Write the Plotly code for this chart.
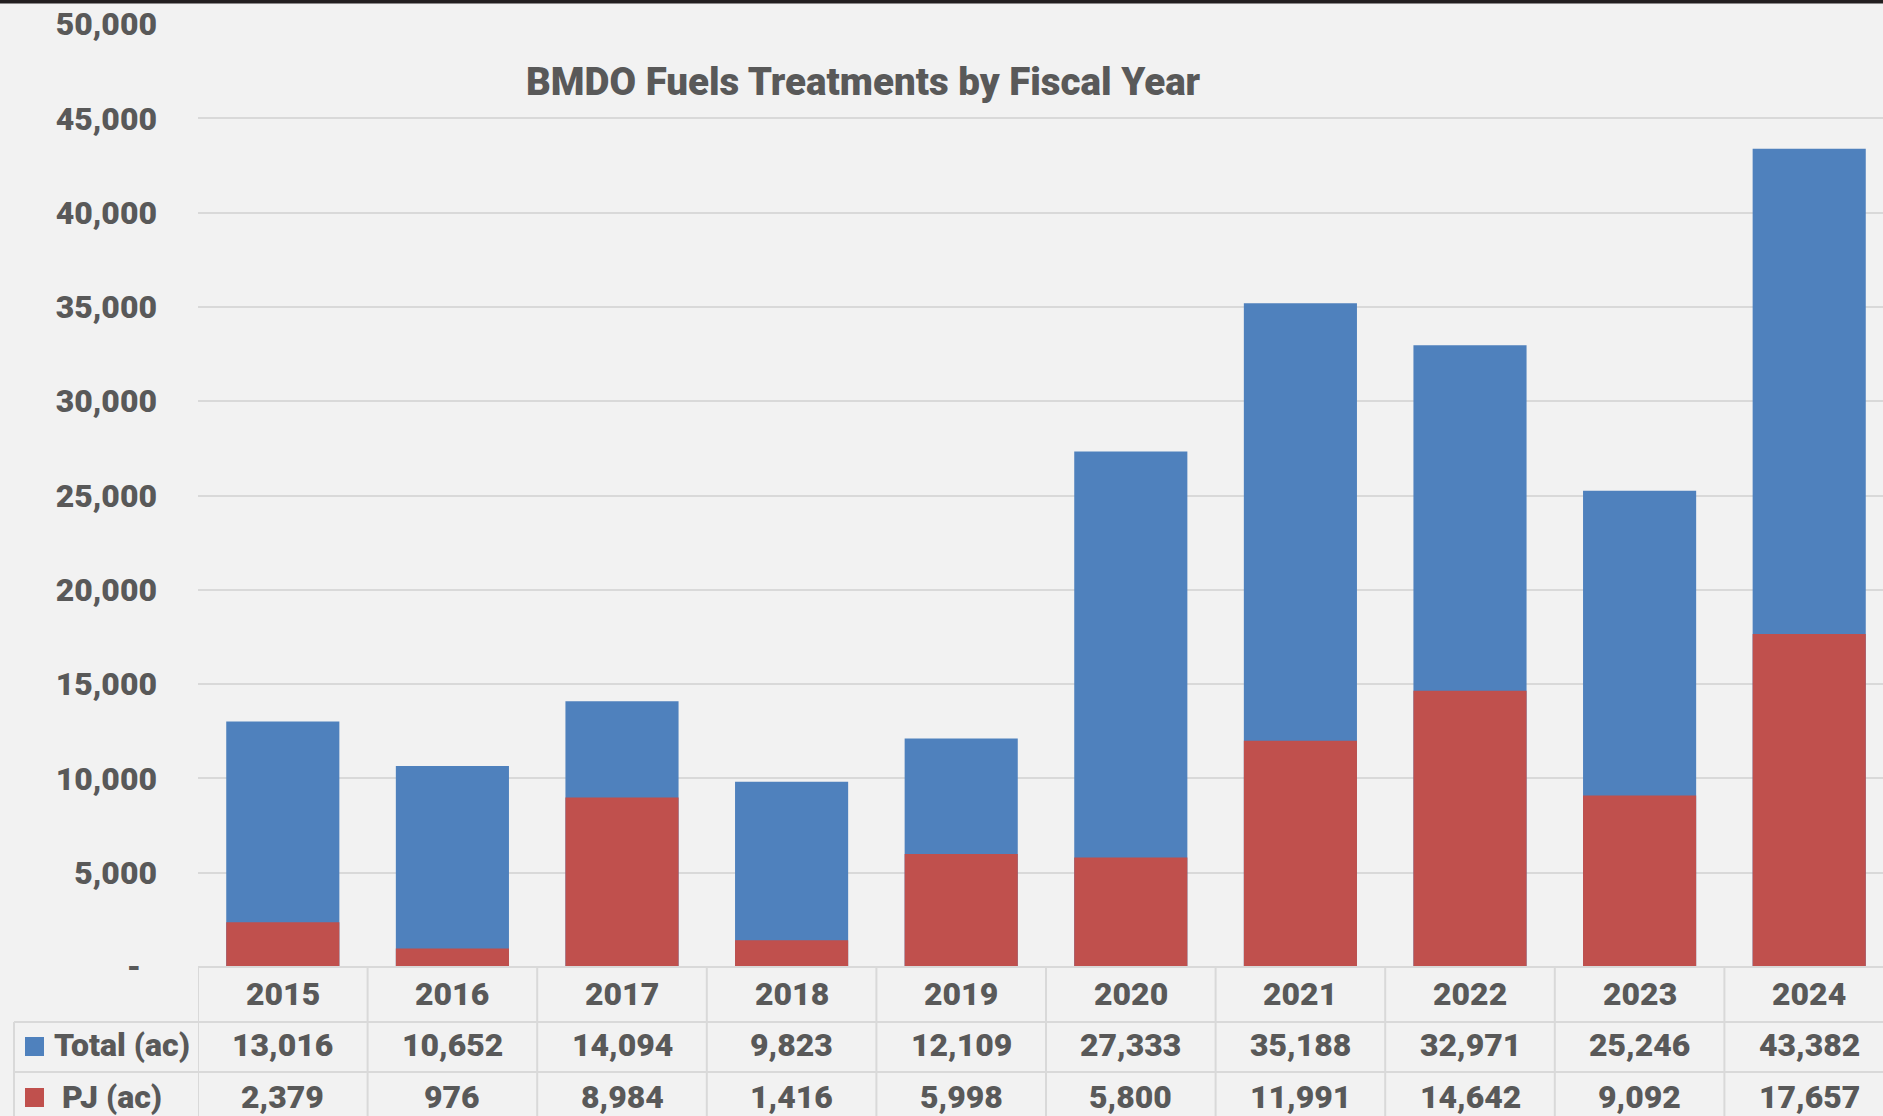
import plotly.graph_objects as go

years = ["2015", "2016", "2017", "2018", "2019", "2020", "2021", "2022", "2023", "2024"]
total_ac = [13016, 10652, 14094, 9823, 12109, 27333, 35188, 32971, 25246, 43382]
pj_ac = [2379, 976, 8984, 1416, 5998, 5800, 11991, 14642, 9092, 17657]
y_ticks = [0, 5000, 10000, 15000, 20000, 25000, 30000, 35000, 40000, 45000, 50000]
y_tick_text = ["-\u00a0\u00a0" if v == 0 else f"{v:,}" for v in y_ticks]
series_names = ["Total (ac)", "PJ (ac)"]
title_text = "BMDO Fuels Treatments by Fiscal Year"

BLUE = "#4F81BD"
RED = "#C0504D"
BG = "#F2F2F2"
GRID = "#D9D9D9"
TXT = "#595959"
FONT = "Roboto"
WEIGHT = 900

W, H = 1883, 1116
L, T = 198, 24
B = H - 967
PLOT_W = W - L
PLOT_H = H - T - B
CAT_W = 169.6


def py(p):
    return (967 - p) / PLOT_H


def px(p):
    return (p - L) / PLOT_W


fig = go.Figure()
fig.add_bar(x=years, y=total_ac, name=series_names[0], marker=dict(color=BLUE, line=dict(width=0)),
            width=0.667)
fig.add_bar(x=years, y=pj_ac, name=series_names[1], marker=dict(color=RED, line=dict(width=0)),
            width=0.667)

shapes = []
line_style = dict(color=GRID, width=2)
# table vertical lines
for i in range(len(years) + 1):
    shapes.append(dict(type="line", xref="x", yref="paper", x0=i - 0.5, x1=i - 0.5,
                       y0=py(967), y1=py(H + 5), line=line_style, layer="above"))
# table horizontal lines
shapes.append(dict(type="line", xref="paper", yref="paper", x0=0, x1=1.01,
                   y0=py(967), y1=py(967), line=line_style))
for yy in (1022, 1072):
    shapes.append(dict(type="line", xref="paper", yref="paper", x0=px(14), x1=1.01,
                       y0=py(yy), y1=py(yy), line=line_style))
shapes.append(dict(type="line", xref="paper", yref="paper", x0=px(14), x1=px(14),
                   y0=py(1022), y1=py(H + 5), line=line_style))
# legend keys
shapes.append(dict(type="rect", xref="paper", yref="paper", x0=px(25), x1=px(44),
                   y0=py(1056), y1=py(1037), fillcolor=BLUE, line=dict(width=0)))
shapes.append(dict(type="rect", xref="paper", yref="paper", x0=px(25), x1=px(44),
                   y0=py(1107), y1=py(1088), fillcolor=RED, line=dict(width=0)))
# dark strip at top edge
shapes.append(dict(type="rect", xref="paper", yref="paper", x0=px(-5), x1=1.01,
                   y0=py(3.5), y1=py(-5), fillcolor="#231F20", line=dict(width=0)))

tf = dict(family=FONT, size=32, color=TXT, weight=WEIGHT)
ann = []
for i, yr in enumerate(years):
    ann.append(dict(x=i, y=py(994), xref="x", yref="paper", text=yr, showarrow=False,
                    font=tf, xanchor="center", yanchor="middle"))
    ann.append(dict(x=i, y=py(1045), xref="x", yref="paper", text=f"{total_ac[i]:,}",
                    showarrow=False, font=tf, xanchor="center", yanchor="middle"))
    ann.append(dict(x=i, y=py(1097), xref="x", yref="paper", text=f"{pj_ac[i]:,}",
                    showarrow=False, font=tf, xanchor="center", yanchor="middle"))
ann.append(dict(x=px(52), y=py(1045), xref="paper", yref="paper", text=series_names[0],
                showarrow=False, font=tf, xanchor="left", yanchor="middle"))
ann.append(dict(x=px(60), y=py(1097), xref="paper", yref="paper", text=series_names[1],
                showarrow=False, font=tf, xanchor="left", yanchor="middle"))
# title
ann.append(dict(x=px(863), y=py(82), xref="paper", yref="paper",
                text=title_text, showarrow=False,
                font=dict(family=FONT, size=38.5, color=TXT, weight=WEIGHT),
                xanchor="center", yanchor="middle"))

fig.update_layout(
    width=W, height=H,
    margin=dict(l=L, r=0, t=T, b=B, pad=0),
    paper_bgcolor=BG, plot_bgcolor=BG,
    barmode="overlay",
    showlegend=False,
    shapes=shapes,
    annotations=ann,
    xaxis=dict(type="category", range=[-0.5, -0.5 + PLOT_W / CAT_W], showticklabels=False,
               showgrid=False, zeroline=False, showline=False, ticks=""),
    yaxis=dict(range=[0, 50000], tickvals=y_ticks, ticktext=y_tick_text, showgrid=True,
               gridcolor=GRID, gridwidth=2, zeroline=False, showline=False, ticks="",
               ticklabelstandoff=40, tickfont=tf),
)

fig.write_html(
    "out.html",
    config={"displayModeBar": False},
    post_script="document.body.style.margin='0';document.body.style.background='#F2F2F2';"
                "document.body.style.overflow='hidden';",
)
